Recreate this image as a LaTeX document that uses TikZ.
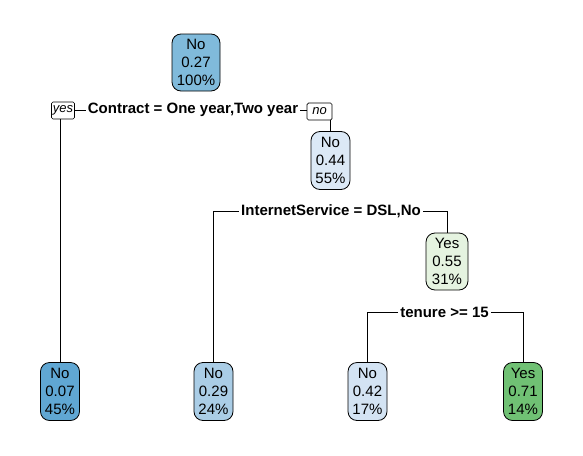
\documentclass[tikz,border=0pt]{standalone}
\usepackage{fontspec}
\setmainfont{Liberation Sans}
\begin{document}
\begin{tikzpicture}[x=1pt,y=-1pt,
  tnode/.style={draw=black, line width=0.8pt, rounded corners=9pt, inner sep=0pt,
    minimum width=39pt, minimum height=58pt, align=center,
    font=\fontsize{15}{18}\selectfont},
  ynbox/.style={draw=black, line width=0.7pt, fill=white, rounded corners=1.5pt, inner sep=0pt,
    minimum height=17pt, font=\fontsize{13}{14}\selectfont\itshape},
  splitlab/.style={inner sep=0pt, inner xsep=2pt, font=\fontsize{15}{16}\selectfont\bfseries},
  conn/.style={line width=0.8pt, black}]
\definecolor{cRoot}{RGB}{128,186,219}
\definecolor{cLeafA}{RGB}{96,167,211}
\definecolor{cLeafB}{RGB}{170,205,230}
\definecolor{cLeafC}{RGB}{211,227,243}
\definecolor{cNodeB}{RGB}{220,233,246}
\definecolor{cNodeC}{RGB}{229,243,224}
\definecolor{cLeafD}{RGB}{112,193,116}
\useasboundingbox (0,0) rectangle (583,455);

% tree nodes
\node[tnode, fill=cRoot, minimum width=48pt, minimum height=57pt] (root) at (196,62.5) {No\\0.27\\100\%};
\node[tnode, fill=cNodeB] (n2) at (330.5,160.5) {No\\0.44\\55\%};
\node[tnode, fill=cNodeC, minimum width=42pt, minimum height=57pt] (n3) at (447,261.5) {Yes\\0.55\\31\%};
\node[tnode, fill=cLeafA] (l1) at (60,391.5) {No\\0.07\\45\%};
\node[tnode, fill=cLeafB] (l2) at (213.5,391.5) {No\\0.29\\24\%};
\node[tnode, fill=cLeafC] (l3) at (367.5,391.5) {No\\0.42\\17\%};
\node[tnode, fill=cLeafD] (l4) at (523,391.5) {Yes\\0.71\\14\%};

% split 1
\node[splitlab] (s1) at (193,110) {Contract = One year,Two year};
\node[ynbox, minimum width=23pt] (yes1) at (63,110.5) {yes};
\node[ynbox, minimum width=25pt] (no1) at (319.5,111.5) {no};
\draw[conn] (yes1.east |- s1.west) -- (s1.west);
\draw[conn] (s1.east) -- (s1.east -| no1.west);
\draw[conn] (l1.north) -- (l1.north |- yes1.south);
\draw[conn] (n2.north) -- (n2.north |- no1.south);

% split 2
\node[splitlab] (s2) at (331,211) {InternetService = DSL,No};
\draw[conn] (s2.west) -| (l2.north);
\draw[conn] (s2.east) -| (n3.north);

% split 3
\node[splitlab] (s3) at (444.5,312) {tenure >= 15};
\draw[conn] (s3.west) -| (l3.north);
\draw[conn] (s3.east) -| (l4.north);
\end{tikzpicture}
\end{document}
